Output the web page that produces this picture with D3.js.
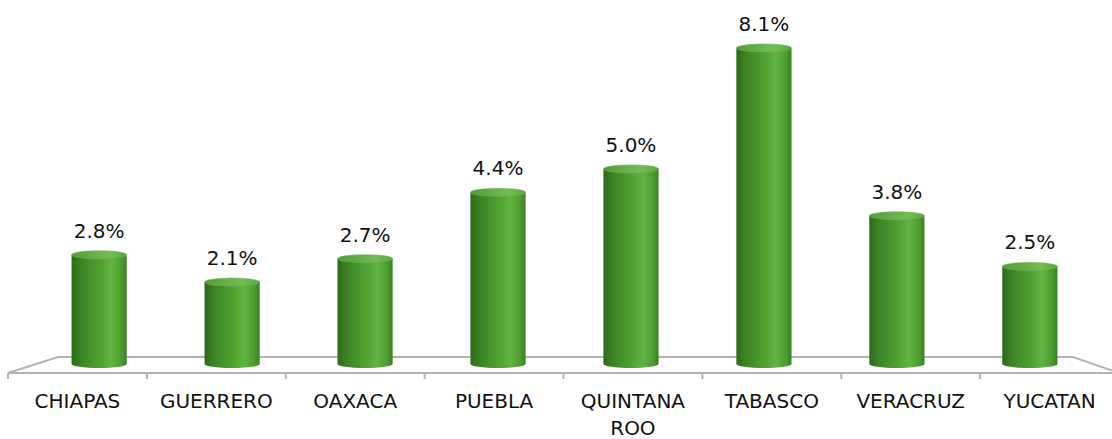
<!DOCTYPE html>
<html>
<head>
<meta charset="utf-8">
<script src="https://cdn.jsdelivr.net/npm/d3@7"></script>
<style>
  body { margin: 0; background: #fff; }
  text { font-family: "DejaVu Sans", sans-serif; fill: #111; }
</style>
</head>
<body>
<div class="vis-barChart"></div>
<script>
var categories = ["CHIAPAS", "GUERRERO", "OAXACA", "PUEBLA", "QUINTANA ROO", "TABASCO", "VERACRUZ", "YUCATAN"];
var values = [2.8, 2.1, 2.7, 4.4, 5.0, 8.1, 3.8, 2.5];
var valueLabels = ["2.8%", "2.1%", "2.7%", "4.4%", "5.0%", "8.1%", "3.8%", "2.5%"];

var width = 1112, height = 439;

var svg = d3.select('.vis-barChart').append('svg')
    .attr("width", width)
    .attr("height", height);

// floor planes: front edge, back edge, bars stand in the middle
var front = d3.scaleBand().domain(categories).range([8, 1119]);
var back = d3.scaleBand().domain(categories).range([58, 1073]);
var mid = d3.scaleBand().domain(categories).range([33, 1096]).paddingInner(0.585).paddingOuter(0.29);

var yFront = 373, yBack = 357, yBase = 364;

var y = d3.scaleLinear().domain([0, 8.1]).range([yBase, 48]);

var defs = svg.append("defs");
var grad = defs.append("linearGradient").attr("id", "cyl").attr("x1", "0%").attr("x2", "100%");
grad.append("stop").attr("offset", "0%").attr("stop-color", "#2c6a1a");
grad.append("stop").attr("offset", "18%").attr("stop-color", "#3d8524");
grad.append("stop").attr("offset", "55%").attr("stop-color", "#52a433");
grad.append("stop").attr("offset", "72%").attr("stop-color", "#62b542");
grad.append("stop").attr("offset", "90%").attr("stop-color", "#4d9c2f");
grad.append("stop").attr("offset", "100%").attr("stop-color", "#3a8022");

var topGrad = defs.append("linearGradient").attr("id", "cylTop").attr("x1", "0%").attr("x2", "100%");
topGrad.append("stop").attr("offset", "0%").attr("stop-color", "#559a38");
topGrad.append("stop").attr("offset", "70%").attr("stop-color", "#74be55");
topGrad.append("stop").attr("offset", "100%").attr("stop-color", "#5aa43c");

// floor outline
var floor = svg.append("g").attr("stroke", "#b3b3b3").attr("stroke-width", 2).attr("fill", "none");
floor.append("path")
    .attr("d", "M" + front.range()[0] + "," + yFront + "L" + back.range()[0] + "," + yBack +
        "L" + back.range()[1] + "," + yBack + "L" + front.range()[1] + "," + yFront);
floor.append("line")
    .attr("x1", front.range()[0]).attr("x2", front.range()[1])
    .attr("y1", yFront).attr("y2", yFront);
floor.selectAll(".tick")
    .data(categories)
    .enter()
    .append("line")
    .attr("x1", function(d){ return front(d); })
    .attr("x2", function(d){ return front(d); })
    .attr("y1", yFront).attr("y2", yFront + 6);

var ry = 4;
var bars = svg.selectAll(".bar")
    .data(categories)
    .enter()
    .append("g");

bars.append("path")
    .attr("d", function(d, i) {
        var x0 = mid(d), w = mid.bandwidth(), rx = w / 2, top = y(values[i]);
        return "M" + x0 + "," + top + "L" + x0 + "," + yBase +
            "A" + rx + "," + ry + " 0 0 0 " + (x0 + w) + "," + yBase +
            "L" + (x0 + w) + "," + top + "Z";
    })
    .attr("fill", "url(#cyl)");

bars.append("ellipse")
    .attr("cx", function(d){ return mid(d) + mid.bandwidth() / 2; })
    .attr("cy", function(d, i){ return y(values[i]); })
    .attr("rx", mid.bandwidth() / 2)
    .attr("ry", ry)
    .attr("fill", "url(#cylTop)")
    .attr("stroke", "#6fae55")
    .attr("stroke-width", 0.6);

svg.selectAll(".val")
    .data(categories)
    .enter()
    .append("text")
    .attr("x", function(d){ return mid(d) + mid.bandwidth() / 2; })
    .attr("y", function(d, i){ return y(values[i]) - 17; })
    .attr("text-anchor", "middle")
    .style("font-size", "20px")
    .text(function(d, i){ return valueLabels[i]; });

var labels = svg.selectAll(".cat")
    .data(categories)
    .enter()
    .append("text")
    .attr("x", function(d){ return front(d) + front.bandwidth() / 2; })
    .attr("y", 408)
    .attr("text-anchor", "middle")
    .style("font-size", "20px");

labels.each(function(d) {
    var words = d.split(" ");
    var t = d3.select(this);
    words.forEach(function(w, k) {
        t.append("tspan")
            .attr("x", front(d) + front.bandwidth() / 2)
            .attr("dy", k === 0 ? 0 : 27)
            .text(w);
    });
});
</script>
</body>
</html>
